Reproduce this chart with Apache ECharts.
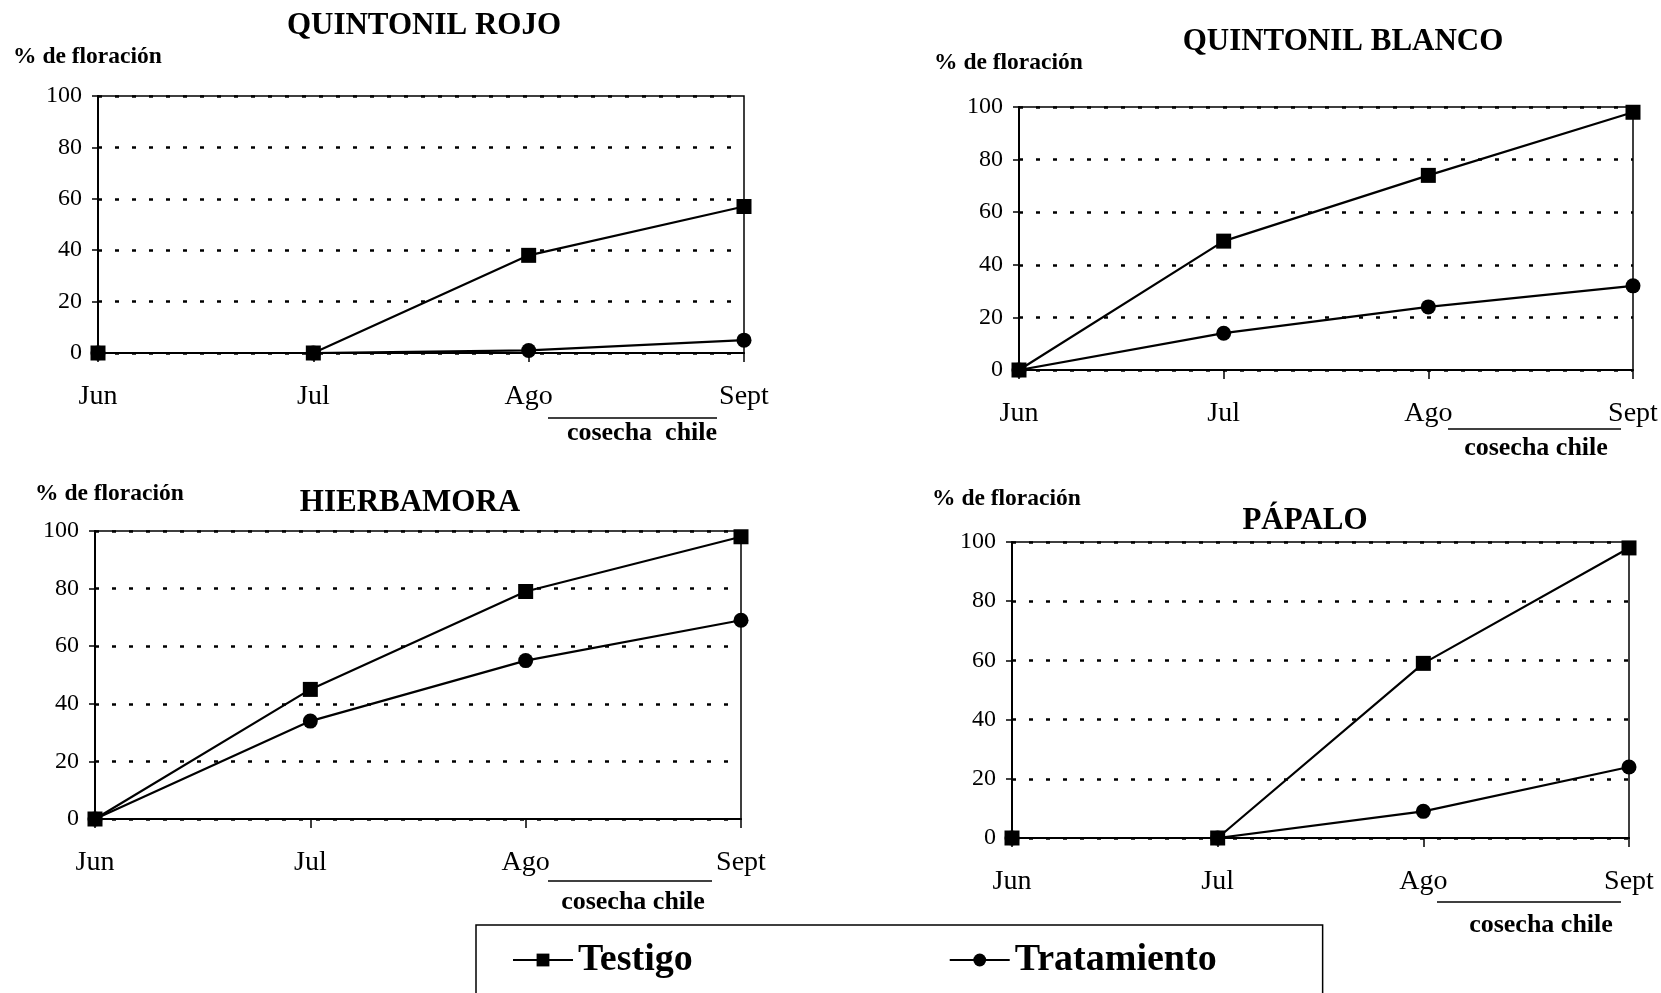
<!DOCTYPE html>
<html>
<head>
<meta charset="utf-8">
<script src="https://cdn.jsdelivr.net/npm/echarts@6/dist/echarts.min.js"></script>
<style>
html,body{margin:0;padding:0;background:#fff;}
#chart{width:1661px;height:993px;}
</style>
</head>
<body>
<div id="chart"></div>
<script>
// ---- data ----
const months = ['Jun', 'Jul', 'Ago', 'Sept'];
const yTicks = [0, 20, 40, 60, 80, 100];
const seriesNames = ['Testigo', 'Tratamiento'];
const panelTitles = ['QUINTONIL ROJO', 'QUINTONIL BLANCO', 'HIERBAMORA', 'PÁPALO'];
const yAxisTitle = '% de floración';
const harvestNotes = ['cosecha  chile', 'cosecha chile', 'cosecha chile', 'cosecha chile'];

const quintonilRojoTestigo = [0, 0, 38, 57];
const quintonilRojoTratamiento = [0, 0, 1, 5];
const quintonilBlancoTestigo = [0, 49, 74, 98];
const quintonilBlancoTratamiento = [0, 14, 24, 32];
const hierbamoraTestigo = [0, 45, 79, 98];
const hierbamoraTratamiento = [0, 34, 55, 69];
const papaloTestigo = [0, 0, 59, 98];
const papaloTratamiento = [0, 0, 9, 24];

const panelData = [
  [quintonilRojoTestigo, quintonilRojoTratamiento],
  [quintonilBlancoTestigo, quintonilBlancoTratamiento],
  [hierbamoraTestigo, hierbamoraTratamiento],
  [papaloTestigo, papaloTratamiento]
];

// ---- layout (pixels) ----
const FONT = 'Liberation Serif';
const layout = [
  {grid:{left:98, top:96, width:646, height:257}, title:[424, 10], yname:[13, 58], note:{x1:548, x2:717, ly:418, tx:642, ty:433}},
  {grid:{left:1019, top:107, width:614, height:263}, title:[1343, 26], yname:[934, 64], note:{x1:1448, x2:1621, ly:429, tx:1536, ty:448}},
  {grid:{left:95, top:531, width:646, height:288}, title:[410, 487], yname:[35, 495], note:{x1:548, x2:712, ly:881, tx:633, ty:902}},
  {grid:{left:1012, top:542, width:617, height:296}, title:[1305, 505], yname:[932, 500], note:{x1:1437, x2:1621, ly:902, tx:1541, ty:925}}
];

const grids = [], xAxes = [], yAxes = [], series = [], titles = [], graphics = [];
layout.forEach((L, i) => {
  grids.push(Object.assign({show:true, borderColor:'#000', borderWidth:1.5, backgroundColor:'transparent'}, L.grid));
  xAxes.push({
    type:'category', gridIndex:i, data:months, boundaryGap:false,
    axisLine:{lineStyle:{color:'#000', width:2}},
    axisTick:{show:true, length:9, lineStyle:{color:'#000', width:1.5}},
    axisLabel:{color:'#000', fontFamily:FONT, fontSize:28, margin:30},
    splitLine:{show:false}
  });
  yAxes.push({
    type:'value', gridIndex:i, min:0, max:100, interval:20,
    axisLine:{show:true, lineStyle:{color:'#000', width:2}},
    axisTick:{show:true, length:6, lineStyle:{color:'#000', width:1.5}},
    axisLabel:{color:'#000', fontFamily:FONT, fontSize:24, margin:16},
    splitLine:{show:true, lineStyle:{color:'#000', width:2.5, type:[4, 13]}}
  });
  const [testigo, tratamiento] = panelData[i];
  series.push({
    name:seriesNames[1], type:'line', xAxisIndex:i, yAxisIndex:i, data:tratamiento,
    symbol:'circle', symbolSize:15, lineStyle:{color:'#000', width:2.2},
    itemStyle:{color:'#000'}, z:3, animation:false
  });
  series.push({
    name:seriesNames[0], type:'line', xAxisIndex:i, yAxisIndex:i, data:testigo,
    symbol:'rect', symbolSize:15, lineStyle:{color:'#000', width:2.2},
    itemStyle:{color:'#000'}, z:4, animation:false
  });
  titles.push({
    text:panelTitles[i], left:L.title[0], top:L.title[1], textAlign:'center', padding:0,
    textStyle:{fontFamily:FONT, fontWeight:'bold', fontSize:31, color:'#000'}
  });
  graphics.push({
    type:'text', left:L.yname[0], top:L.yname[1] - 13,
    style:{text:yAxisTitle, font:'bold 23.5px "' + FONT + '"', fill:'#000'}
  });
  graphics.push({
    type:'line', shape:{x1:L.note.x1, y1:L.note.ly, x2:L.note.x2, y2:L.note.ly},
    style:{stroke:'#000', lineWidth:1.5}
  });
  graphics.push({
    type:'text', x:L.note.tx, y:L.note.ty,
    style:{text:harvestNotes[i], font:'bold 26px "' + FONT + '"', fill:'#000', align:'center', verticalAlign:'middle'}
  });
});

const chart = echarts.init(document.getElementById('chart'), null, {renderer:'canvas'});
chart.setOption({
  backgroundColor:'#fff',
  animation:false,
  title:titles,
  grid:grids,
  xAxis:xAxes,
  yAxis:yAxes,
  series:series,
  legend:{
    data:seriesNames,
    left:476, top:925,
    padding:[16, 106, 40, 36],
    itemGap:256, itemWidth:60, itemHeight:16,
    borderColor:'#000', borderWidth:1.5,
    textStyle:{fontFamily:FONT, fontWeight:'bold', fontSize:38, color:'#000'}
  },
  graphic:graphics
});
</script>
</body>
</html>
